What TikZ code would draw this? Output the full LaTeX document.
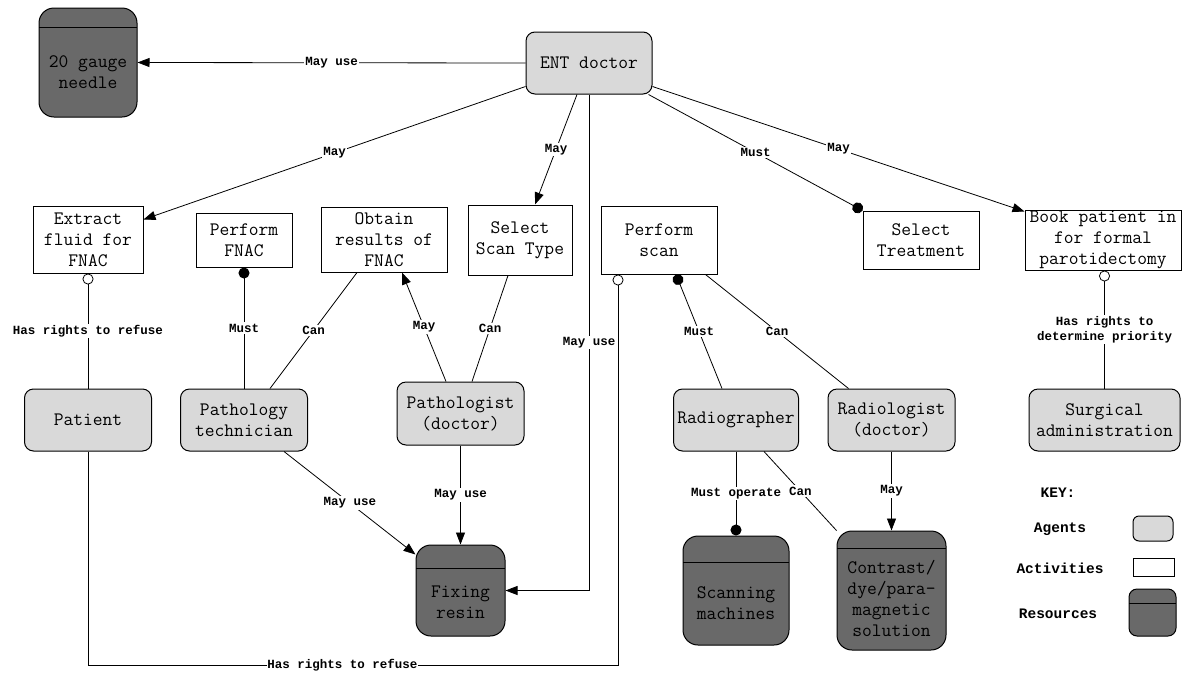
\documentclass[tikz,border=0pt]{standalone}
\usepackage{fontspec}
\usetikzlibrary{arrows.meta,positioning,calc}
\newfontfamily\monofont{Liberation Mono}
\newcommand\nodefont{\ttfamily\fontsize{19}{21}\selectfont}
\newcommand\edgefont{\monofont\bfseries\fontsize{12.5}{15}\selectfont}
\newcommand\keyfont{\monofont\bfseries\fontsize{14.5}{17}\selectfont}
\definecolor{agentgray}{RGB}{217,217,217}
\definecolor{resgray}{RGB}{105,105,105}
\tikzset{
  wh/.style 2 args={minimum width=#1, minimum height=#2},
  agent/.style={draw, line width=1pt, fill=agentgray, rounded corners=9pt, inner sep=0pt, align=center, font=\nodefont},
  activity/.style={draw, line width=1pt, fill=white, inner sep=0pt, align=center, font=\nodefont},
  resource/.style={draw, line width=1pt, fill=resgray, rounded corners=15pt, inner sep=0pt,
    path picture={\draw[line width=1pt] ([yshift=-#1]path picture bounding box.north west) -- ([yshift=-#1]path picture bounding box.north east);}},
  restext/.style={align=center, font=\nodefont, inner sep=0pt},
  conn/.style={line width=0.8pt},
  may/.style={conn, -{Triangle[length=12pt,width=9pt]}},
  must/.style={conn, -{Circle[length=11pt]}},
  refuse/.style={conn, -{Circle[open,length=11pt]}},
  lbl/.style={midway, fill=white, inner sep=1.5pt, font=\edgefont, align=center},
}
\begin{document}
\begin{tikzpicture}[x=1pt, y=-1pt]
  \path[fill=white, use as bounding box] (0,0) rectangle (1182,672);
  % agents, activities and resources
  \node[agent, wh={126pt}{62pt}] (ent) at (589,63) {ENT doctor};
  \node[resource=19pt, wh={98pt}{109pt}] (needle) at (88,62.5) {};
  \node[restext] (needle-t) at (88,72) {20 gauge\\needle};

  \node[activity, wh={110pt}{67pt}] (extract) at (88,239.5) {Extract\\fluid for\\FNAC};
  \node[activity, wh={96pt}{54pt}] (perffnac) at (244,240) {Perform\\FNAC};
  \node[activity, wh={126pt}{65pt}] (obtain) at (384,239.5) {Obtain\\results of\\FNAC};
  \node[activity, wh={104pt}{70pt}] (selscan) at (520,240) {Select\\Scan Type};
  \node[activity, wh={116pt}{68pt}] (perfscan) at (659,240) {Perform\\scan};
  \node[activity, wh={116pt}{58pt}] (seltreat) at (921,240) {Select\\Treatment};
  \node[activity, wh={156pt}{60pt}] (book) at (1103,240) {Book patient in\\for formal\\parotidectomy};

  \node[agent, wh={127pt}{62pt}] (patient) at (88,420) {Patient};
  \node[agent, wh={127pt}{62pt}] (pathtech) at (244,420) {Pathology\\technician};
  \node[agent, wh={127pt}{63pt}] (pathol) at (460.5,413.5) {Pathologist\\(doctor)};
  \node[agent, wh={125pt}{62pt}] (radiographer) at (736,420) {Radiographer};
  \node[agent, wh={127pt}{62pt}] (radiologist) at (891.5,420) {Radiologist\\(doctor)};
  \node[agent, wh={151pt}{62pt}] (surgical) at (1104.5,420) {Surgical\\administration};

  \node[resource=23pt, wh={89pt}{91pt}] (fixing) at (460.5,590.5) {};
  \node[restext] (fixing-t) at (460.5,602) {Fixing\\resin};
  \node[resource=26pt, wh={106pt}{109pt}] (scanning) at (736,590.5) {};
  \node[restext] (scanning-t) at (736,603.5) {Scanning\\machines};
  \node[resource=17pt, wh={109pt}{119pt}] (contrast) at (891.5,590.5) {};
  \node[restext] (contrast-t) at (891.5,598.5) {Contrast/\\dye/para-\\magnetic\\solution};

  % key
  \node[font=\keyfont] (key) at (1058,493) {KEY:};
  \node[font=\keyfont] (key-agents) at (1060,529) {Agents};
  \node[font=\keyfont] (key-activities) at (1060,568) {Activities};
  \node[font=\keyfont] (key-resources) at (1058,614) {Resources};
  \node[agent, wh={40pt}{25pt}, rounded corners=6pt] (key-agent) at (1153,528.5) {};
  \node[activity, wh={41pt}{18pt}] (key-activity) at (1153.5,567) {};
  \node[resource=14pt, wh={47pt}{47pt}, rounded corners=8pt] (key-resource) at (1152.5,612.5) {};

  % relations
  \draw[may] (ent.west) -- node[lbl] {May use} (needle.east);
  \draw[may] ([yshift=8pt]ent.south west) -- node[lbl] {May} ([yshift=-14pt]extract.north east);
  \draw[may] ([xshift=-12pt]ent.south) -- node[lbl] {May} ([xshift=15pt]selscan.north);
  \draw[may] (ent.south) |- node[lbl, pos=0.25] {May use} (fixing.east);
  \draw[must] ([xshift=-4pt]ent.south east) -- node[lbl] {Must} (seltreat.north west);
  \draw[may] ([yshift=8pt]ent.south east) -- node[lbl] {May} ([yshift=-2pt]book.north west);

  \draw[refuse] (patient.north) -- node[lbl] {Has rights to refuse} (extract.south);
  \draw[must] (pathtech.north) -- node[lbl] {Must} (perffnac.south);
  \draw[conn] ([xshift=26pt]pathtech.north) -- node[lbl] {Can} ([xshift=-27pt]obtain.south);
  \draw[may] ([xshift=-14.5pt]pathol.north) -- node[lbl] {May} ([xshift=18pt]obtain.south);
  \draw[conn] ([xshift=11.5pt]pathol.north) -- node[lbl] {Can} ([xshift=-12pt]selscan.south);
  \draw[may] (pathol.south) -- node[lbl] {May use} (fixing.north);
  \draw[may] ([xshift=-24pt]pathtech.south east) -- node[lbl] {May use} ([yshift=-10pt]fixing.north west);
  \draw[refuse] (patient.south) -- ++(0,214) -| node[lbl, pos=0.24, inner sep=0.5pt] {Has rights to refuse} ([xshift=-41pt]perfscan.south);

  \draw[must] ([xshift=-14pt]radiographer.north) -- node[lbl] {Must} ([xshift=17pt]perfscan.south);
  \draw[conn] ([xshift=21pt]radiologist.north west) -- node[lbl] {Can} ([xshift=-12pt]perfscan.south east);
  \draw[refuse] (surgical.north) -- node[lbl] {Has rights to\\determine priority} (surgical.north |- book.south);
  \draw[must] (radiographer.south) -- node[lbl] {Must operate} (scanning.north);
  \draw[conn] ([xshift=-35pt]radiographer.south east) -- node[lbl] {Can} (contrast.north west);
  \draw[may] (radiologist.south) -- node[lbl] {May} (contrast.north);
\end{tikzpicture}
\end{document}
